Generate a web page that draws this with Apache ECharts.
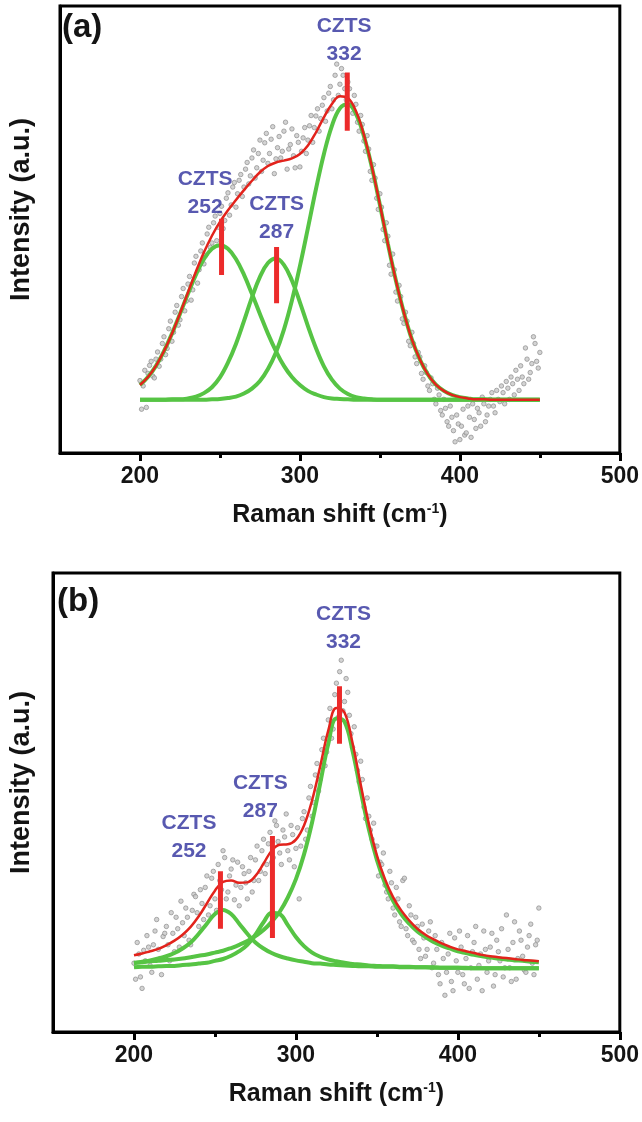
<!DOCTYPE html>
<html>
<head>
<meta charset="utf-8">
<script src="https://cdn.jsdelivr.net/npm/echarts@6/dist/echarts.min.js"></script>
<style>
html,body{margin:0;padding:0;background:#fff;}
#chart{width:642px;height:1122px;}
</style>
</head>
<body>
<div id="chart"></div>
<script>
// ---------- data ----------
const MAJOR_TICKS = [200, 300, 400, 500];
const MINOR_TICKS = [250, 350, 450];
const PEAK_NAMES = ['252', '287', '332'];

const X_FIT = [200,205,210,215,220,225,230,235,240,245,250,255,260,265,270,275,280,285,290,295,300,305,310,315,320,325,330,335,340,345,350,355,360,365,370,375,380,385,390,395,400,405,410,415,420,425,430,435,440,445,450];

// panel (a) fitted curves
const A_G1 = [15.2,17.0,19.5,22.8,26.7,31.1,35.6,39.9,43.4,45.7,46.5,45.7,43.4,39.9,35.6,31.1,26.7,22.8,19.5,17.0,15.2,13.9,13.1,12.5,12.2,12.1,12.0,11.9,11.9,11.9,11.9,11.9,11.9,11.9,11.9,11.9,11.9,11.9,11.9,11.9,11.9,11.9,11.9,11.9,11.9,11.9,11.9,11.9,11.9,11.9,11.9];
const A_G2 = [11.9,11.9,11.9,11.9,12.0,12.0,12.2,12.6,13.4,14.7,16.9,20.2,24.4,29.5,34.8,39.4,42.5,43.5,42.1,38.6,33.7,28.4,23.5,19.4,16.4,14.4,13.2,12.5,12.2,12.0,11.9,11.9,11.9,11.9,11.9,11.9,11.9,11.9,11.9,11.9,11.9,11.9,11.9,11.9,11.9,11.9,11.9,11.9,11.9,11.9,11.9];
const A_G3 = [11.9,11.9,11.9,11.9,11.9,11.9,11.9,11.9,11.9,12.0,12.1,12.3,12.6,13.3,14.4,16.1,18.8,22.5,27.6,34.1,41.8,50.3,59.0,66.9,73.2,77.1,78.0,75.9,70.9,63.9,55.5,46.8,38.6,31.4,25.4,20.9,17.6,15.3,13.9,13.0,12.5,12.2,12.0,12.0,11.9,11.9,11.9,11.9,11.9,11.9,11.9];
const A_RED = [15.2,17.0,19.5,22.8,26.7,31.2,35.9,40.6,44.9,48.6,51.7,54.3,56.6,58.8,60.9,62.8,64.2,65.0,65.4,65.9,66.9,68.8,71.7,75.1,78.1,79.8,79.4,76.5,71.2,64.0,55.6,46.8,38.6,31.4,25.4,20.9,17.6,15.3,13.9,13.0,12.5,12.2,12.0,12.0,11.9,11.9,11.9,11.9,11.9,11.9,11.9];

// panel (b) fitted curves
const B_G1 = [15.0,15.3,15.6,16.0,16.5,17.2,18.2,19.5,21.4,23.6,25.7,26.6,25.7,23.6,21.4,19.5,18.2,17.2,16.5,16.0,15.6,15.3,15.0,14.9,14.7,14.6,14.5,14.4,14.3,14.3,14.2,14.2,14.2,14.1,14.1,14.1,14.1,14.0,14.0,14.0,14.0,13.9,13.9,13.9,13.9,13.9,13.9,13.9,13.9,13.9,13.9];
const B_G2 = [14.1,14.2,14.2,14.3,14.4,14.4,14.6,14.7,14.9,15.1,15.5,15.9,16.6,17.6,19.0,21.2,23.9,26.0,25.7,23.3,20.7,18.7,17.3,16.4,15.8,15.4,15.1,14.8,14.7,14.5,14.4,14.3,14.3,14.2,14.2,14.1,14.1,14.1,14.0,14.0,14.0,14.0,13.9,13.9,13.9,13.9,13.9,13.9,13.9,13.9,13.9];
const B_G3 = [15.1,15.2,15.4,15.5,15.7,15.8,16.0,16.3,16.6,16.9,17.3,17.7,18.3,19.0,19.8,20.9,22.2,24.0,26.2,29.3,33.3,38.7,45.7,54.2,62.8,68.3,67.6,61.2,52.5,44.2,37.5,32.4,28.6,25.7,23.6,21.9,20.7,19.6,18.8,18.2,17.6,17.2,16.8,16.5,16.2,16.0,15.8,15.6,15.5,15.3,15.2];
const B_RED = [16.7,17.1,17.6,18.1,18.9,19.9,21.2,22.9,25.2,28.0,30.8,32.7,33.0,32.5,32.6,34.0,36.7,39.5,40.8,40.9,41.9,45.0,50.5,57.9,65.7,70.6,69.6,62.9,53.9,45.4,38.5,33.3,29.4,26.5,24.3,22.5,21.2,20.2,19.3,18.6,18.0,17.6,17.2,16.8,16.5,16.3,16.1,15.9,15.7,15.6,15.4];

// measured points (Raman shift, intensity)
const A_POINTS = [
[200,16.2],[201,9.8],[202,15.0],[203,18.5],[204,10.2],[205,17.8],[206,19.6],[207,20.5],[208,17.2],[209,16.8],
[210,21.0],[211,22.6],[212,19.4],[213,21.0],[214,24.5],[215,26.0],[216,22.0],[217,23.4],[218,27.8],[219,29.5],
[220,25.0],[221,27.0],[222,31.5],[223,33.0],[224,28.6],[225,29.8],[226,35.0],[227,36.8],[228,31.8],[229,34.0],
[230,37.8],[231,39.5],[232,34.2],[233,36.5],[234,42.5],[235,44.0],[236,38.0],[237,41.0],[238,45.2],[239,47.0],
[240,42.3],[241,44.2],[242,49.0],[243,50.5],[244,46.0],[245,47.0],[246,51.5],[247,53.0],[248,47.5],[249,50.5],
[250,53.6],[251,55.2],[252,50.2],[253,52.0],[254,57.0],[255,58.2],[256,53.2],[257,55.5],[258,59.5],[259,60.5],
[260,55.0],[261,58.0],[262,61.0],[263,62.3],[264,57.4],[265,59.5],[266,63.5],[267,65.0],[268,60.2],[269,62.0],
[270,66.0],[271,67.8],[272,61.5],[273,63.8],[274,67.0],[275,70.0],[276,63.0],[277,65.5],[278,69.4],[279,71.5],
[280,64.8],[281,67.0],[282,70.2],[283,73.0],[284,62.5],[285,65.8],[286,68.3],[287,70.8],[288,66.0],[289,67.5],
[290,72.0],[291,74.0],[292,63.5],[293,68.0],[294,69.0],[295,72.5],[296,66.5],[297,63.8],[298,71.0],[299,69.5],
[300,64.0],[301,67.5],[302,70.5],[303,72.8],[304,67.0],[305,70.0],[306,73.2],[307,75.5],[308,69.5],[309,72.8],
[310,75.4],[311,77.0],[312,72.0],[313,74.8],[314,77.8],[315,79.5],[316,74.2],[317,76.5],[318,80.5],[319,82.0],
[320,77.0],[321,79.0],[322,84.5],[323,87.0],[324,80.0],[325,82.5],[326,86.0],[327,84.5],[328,81.5],[329,79.0],
[330,83.0],[331,81.5],[332,77.8],[333,76.0],[334,80.0],[335,78.0],[336,74.0],[337,72.0],[338,75.5],[339,73.5],
[340,69.8],[341,67.5],[342,71.0],[343,68.0],[344,63.0],[345,61.0],[346,64.5],[347,61.5],[348,57.0],[349,54.5],
[350,58.0],[351,55.0],[352,50.0],[353,47.5],[354,51.5],[355,48.5],[356,42.0],[357,40.0],[358,44.5],[359,41.0],
[360,36.0],[361,34.0],[362,37.5],[363,35.0],[364,30.0],[365,29.0],[366,31.5],[367,29.5],[368,25.0],[369,24.0],
[370,27.0],[371,24.5],[372,21.5],[373,20.0],[374,22.5],[375,21.5],[376,17.8],[377,16.5],[378,19.5],[379,18.0],
[380,15.0],[381,14.0],[382,16.8],[383,15.5],[384,12.0],[385,11.0],[386,14.5],[387,13.0],[388,9.5],[389,8.5],
[390,12.0],[391,10.0],[392,7.0],[393,6.0],[394,10.5],[395,8.0],[396,5.0],[397,2.5],[398,8.5],[399,6.5],
[400,3.0],[401,6.0],[402,9.8],[403,4.0],[404,4.5],[405,10.5],[406,8.0],[407,3.5],[408,11.0],[409,7.5],
[410,5.5],[411,10.0],[412,9.0],[413,6.0],[414,12.5],[415,11.0],[416,7.0],[417,8.5],[418,10.5],[419,12.0],
[420,13.5],[421,10.5],[422,9.0],[423,14.0],[424,12.0],[425,11.5],[426,15.0],[427,13.5],[428,11.0],[429,16.0],
[430,14.5],[431,12.0],[432,17.0],[433,15.5],[434,13.0],[435,18.5],[436,16.5],[437,14.0],[438,19.5],[439,17.0],
[440,15.5],[441,23.5],[442,21.0],[443,16.5],[444,18.0],[445,20.0],[446,26.0],[447,24.5],[448,20.5],[449,19.0],[450,22.5]
];

const B_POINTS = [
[200,15.0],[201,11.5],[202,19.5],[203,17.0],[204,12.0],[205,9.5],[206,17.8],[207,15.5],[208,21.0],[209,18.5],
[210,14.5],[211,13.0],[212,19.0],[213,22.0],[214,24.5],[215,18.0],[216,16.0],[217,12.5],[218,20.8],[219,21.5],
[220,23.0],[221,19.0],[222,15.5],[223,26.0],[224,21.5],[225,17.5],[226,25.0],[227,22.5],[228,18.5],[229,28.5],
[230,23.8],[231,21.0],[232,27.0],[233,25.0],[234,20.0],[235,19.0],[236,26.5],[237,30.0],[238,29.5],[239,26.0],
[240,23.0],[241,31.0],[242,28.0],[243,24.5],[244,31.5],[245,34.0],[246,25.5],[247,27.5],[248,33.5],[249,35.0],
[250,29.0],[251,26.5],[252,36.5],[253,33.0],[254,31.0],[255,39.5],[256,38.0],[257,29.0],[258,30.5],[259,34.0],
[260,35.5],[261,37.5],[262,28.8],[263,32.0],[264,37.0],[265,27.5],[266,31.5],[267,36.0],[268,34.5],[269,32.5],
[270,29.0],[271,35.0],[272,38.0],[273,30.5],[274,33.0],[275,37.5],[276,40.5],[277,33.0],[278,35.0],[279,39.5],
[280,42.0],[281,34.5],[282,36.5],[283,41.0],[284,43.5],[285,37.0],[286,38.0],[287,46.0],[288,45.0],[289,41.5],
[290,39.0],[291,36.5],[292,44.0],[293,42.5],[294,47.5],[295,39.5],[296,37.5],[297,45.0],[298,43.0],[299,36.0],
[300,40.0],[301,44.5],[302,29.0],[303,40.5],[304,46.5],[305,48.0],[306,42.0],[307,44.0],[308,51.0],[309,53.5],
[310,47.0],[311,50.0],[312,56.0],[313,58.5],[314,52.5],[315,55.0],[316,61.5],[317,64.0],[318,58.0],[319,61.0],
[320,68.0],[321,70.5],[322,64.0],[323,66.0],[324,73.5],[325,76.0],[326,68.5],[327,78.5],[328,81.0],[329,70.0],
[330,72.0],[331,77.0],[332,74.0],[333,69.0],[334,65.0],[335,62.0],[336,66.5],[337,60.5],[338,57.0],[339,54.5],
[340,59.0],[341,55.0],[342,49.0],[343,46.5],[344,51.0],[345,47.0],[346,44.0],[347,42.0],[348,45.5],[349,40.5],
[350,40.5],[351,34.0],[352,37.0],[353,36.5],[354,39.0],[355,32.0],[356,30.5],[357,29.0],[358,35.0],[359,32.5],
[360,27.0],[361,25.5],[362,31.5],[363,29.0],[364,24.0],[365,23.0],[366,33.0],[367,33.5],[368,22.5],[369,21.0],
[370,27.5],[371,25.5],[372,20.0],[373,19.5],[374,25.0],[375,23.0],[376,18.0],[377,16.0],[378,23.5],[379,20.5],
[380,16.5],[381,18.0],[382,22.0],[383,24.0],[384,14.0],[385,15.0],[386,21.0],[387,18.0],[388,12.5],[389,10.5],
[390,19.5],[391,16.0],[392,8.0],[393,13.0],[394,17.0],[395,21.5],[396,11.0],[397,9.0],[398,20.5],[399,15.5],
[400,13.0],[401,22.0],[402,18.5],[403,12.5],[404,10.5],[405,16.0],[406,21.0],[407,9.5],[408,14.0],[409,17.5],
[410,19.5],[411,23.0],[412,11.5],[413,14.5],[414,17.0],[415,9.0],[416,22.0],[417,18.0],[418,13.0],[419,15.5],
[420,18.5],[421,21.5],[422,10.0],[423,12.5],[424,20.0],[425,17.5],[426,15.5],[427,22.5],[428,12.0],[429,14.0],
[430,25.5],[431,18.0],[432,14.0],[433,11.0],[434,19.5],[435,24.0],[436,11.5],[437,16.0],[438,22.0],[439,20.0],
[440,16.5],[441,13.5],[442,13.0],[443,18.5],[444,21.0],[445,23.5],[446,15.0],[447,12.5],[448,19.0],[449,20.0],[450,27.0]
];

// peak markers: position, lower end, upper end
const A_MARK_X = [251, 285.4, 329.6];
const A_MARK_LO = [39.8, 33.5, 72.1];
const A_MARK_HI = [52.4, 46.1, 85.1];
const B_MARK_X = [253.4, 285.5, 326.9];
const B_MARK_LO = [22.5, 20.5, 62.8];
const B_MARK_HI = [35.0, 42.7, 75.3];

// peak label anchors (centre of the two-line label)
const A_LABEL_X = [240.7, 285.4, 327.6];
const A_LABEL_Y = [58.2, 52.6, 92.4];
const B_LABEL_X = [234, 278, 329.4];
const B_LABEL_Y = [42.5, 51.1, 88.0];

// ---------- chart ----------
const FONT = "'Liberation Sans', Arial, Helvetica, sans-serif";
const GREEN = '#56c444';
const RED = '#e2231c';
const MARK_RED = '#ec2b2b';
const BLUE = '#2e309c';
const INK = '#141414';

function pairs(xs, ys) { return xs.map((x, i) => [x, ys[i]]); }

function xAxes(grid) {
  return [
    {
      gridIndex: grid, type: 'value', min: 150, max: 500, position: 'bottom',
      axisLine: { show: true, onZero: false, lineStyle: { color: '#000', width: 3 } },
      axisTick: { show: true, customValues: MAJOR_TICKS, length: 8, lineStyle: { color: '#000', width: 3 } },
      axisLabel: { show: true, customValues: MAJOR_TICKS, fontSize: 23, fontWeight: 'bold', color: INK, fontFamily: FONT, margin: 12 },
      splitLine: { show: false },
      name: 'Raman shift (cm{s|-1})', nameLocation: 'middle', nameGap: 49,
      nameTextStyle: { fontSize: 25, fontWeight: 'bold', color: INK, fontFamily: FONT,
        rich: { s: { fontSize: 14, fontWeight: 'bold', color: INK, fontFamily: FONT, padding: [0, 0, 12, 0] } } }
    },
    {
      gridIndex: grid, type: 'value', min: 150, max: 500, position: 'bottom',
      axisLine: { show: false },
      axisTick: { show: true, customValues: MINOR_TICKS, length: 5, lineStyle: { color: '#000', width: 3 } },
      axisLabel: { show: false },
      splitLine: { show: false }
    }
  ];
}

function yAxis(grid, gap) {
  return {
    gridIndex: grid, type: 'value', min: 0, max: 100,
    axisLine: { show: true, lineStyle: { color: '#000', width: 3 } },
    axisTick: { show: false }, axisLabel: { show: false }, splitLine: { show: false },
    name: 'Intensity (a.u.)', nameLocation: 'middle', nameGap: gap, nameRotate: 90,
    nameTextStyle: { fontSize: 27, fontWeight: 'bold', color: INK, fontFamily: FONT, padding: [0, 0, 0, 40] }
  };
}

function panelSeries(xi, yi, pts, g1, g2, g3, red, mx, mlo, mhi, lx, ly) {
  const s = [];
  s.push({ type: 'scatter', xAxisIndex: xi, yAxisIndex: yi, data: pts, symbol: 'circle', symbolSize: 4.5,
    itemStyle: { color: '#c8c8c8', borderColor: '#858585', borderWidth: 0.8 }, silent: true, z: 1 });
  [g1, g2, g3].forEach(g => s.push({ type: 'line', xAxisIndex: xi, yAxisIndex: yi, data: pairs(X_FIT, g),
    smooth: 0.4, showSymbol: false, lineStyle: { color: GREEN, width: 4 }, z: 2, silent: true }));
  s.push({ type: 'line', xAxisIndex: xi, yAxisIndex: yi, data: pairs(X_FIT, red),
    smooth: 0.4, showSymbol: false, lineStyle: { color: RED, width: 2.5 }, z: 3, silent: true });
  mx.forEach((x, k) => s.push({ type: 'line', xAxisIndex: xi, yAxisIndex: yi, data: [[x, mlo[k]], [x, mhi[k]]],
    showSymbol: false, lineStyle: { color: MARK_RED, width: 5, cap: 'butt' }, z: 4, silent: true }));
  s.push({ type: 'scatter', xAxisIndex: xi, yAxisIndex: yi, symbolSize: 1,
    itemStyle: { color: 'rgba(0,0,0,0)' }, z: 5, silent: true,
    data: lx.map((x, k) => [x, ly[k], PEAK_NAMES[k]]),
    label: { show: true, position: 'inside', formatter: p => 'CZTS\n' + p.data[2],
      fontSize: 21, fontWeight: 'bold', color: BLUE, fontFamily: FONT, lineHeight: 28, align: 'center', verticalAlign: 'middle' } });
  return s;
}

const chart = echarts.init(document.getElementById('chart'), null, { renderer: 'canvas' });
chart.setOption({
  animation: false,
  backgroundColor: '#fff',
  grid: [
    { left: 58, right: 21, top: 6, height: 447, show: true, borderColor: '#000', borderWidth: 3, backgroundColor: 'transparent' },
    { left: 51, right: 21, top: 573, height: 459, show: true, borderColor: '#000', borderWidth: 3, backgroundColor: 'transparent' }
  ],
  xAxis: [...xAxes(0), ...xAxes(1)],
  yAxis: [yAxis(0, 25), yAxis(1, 18)],
  graphic: [
    { type: 'text', left: 62, top: 11, style: { text: '(a)', fontSize: 33, fontWeight: 'bold', fill: INK, fontFamily: FONT } },
    { type: 'text', left: 57, top: 585, style: { text: '(b)', fontSize: 33, fontWeight: 'bold', fill: INK, fontFamily: FONT } }
  ],
  series: [
    ...panelSeries(0, 0, A_POINTS, A_G1, A_G2, A_G3, A_RED, A_MARK_X, A_MARK_LO, A_MARK_HI, A_LABEL_X, A_LABEL_Y),
    ...panelSeries(2, 1, B_POINTS, B_G1, B_G2, B_G3, B_RED, B_MARK_X, B_MARK_LO, B_MARK_HI, B_LABEL_X, B_LABEL_Y)
  ]
});
</script>
</body>
</html>
